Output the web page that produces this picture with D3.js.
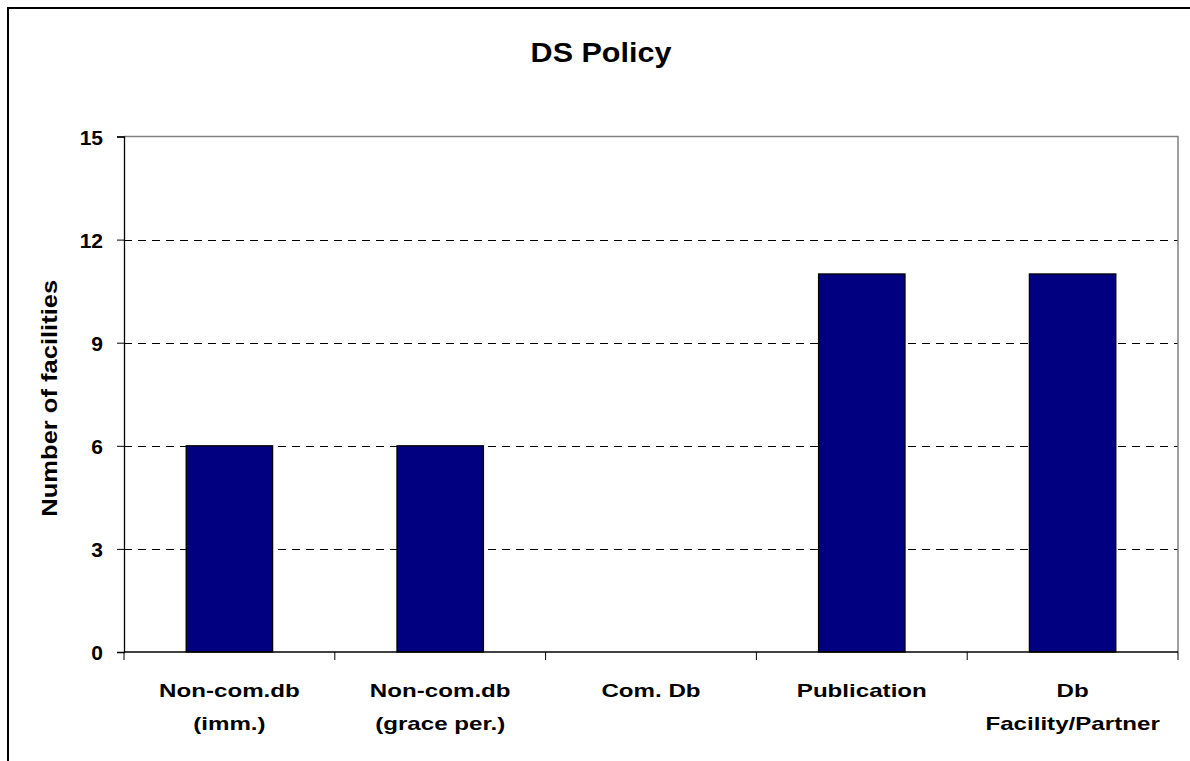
<!DOCTYPE html>
<html><head><meta charset="utf-8">
<script src="https://cdn.jsdelivr.net/npm/d3@7"></script>
<style>body{margin:0;background:#fff}svg{display:block}text{font-family:"Liberation Sans",Arial,sans-serif;font-weight:bold;fill:#000}</style>
</head><body><svg id="c" width="1190" height="761"></svg>
<script>
const categories = [["Non-com.db","(imm.)"],["Non-com.db","(grace per.)"],["Com. Db"],["Publication"],["Db","Facility/Partner"]];
const values = [6, 6, 0, 11, 11];
const yTicks = [0, 3, 6, 9, 12, 15];
const title = "DS Policy";
const yLabel = "Number of facilities";

function stretch(sel, f){
  sel.each(function(){ const w=this.getComputedTextLength(); d3.select(this).attr("textLength",w*f).attr("lengthAdjust","spacingAndGlyphs"); });
}

const svg = d3.select("#c");
svg.append("rect").attr("x",8).attr("y",8).attr("width",1300).attr("height",900)
  .attr("fill","#fff").attr("stroke","#000").attr("stroke-width",2);

const L=124, R=1178, T=136.5, B=652;
const x = d3.scaleBand().domain(d3.range(categories.length)).range([L,R]).paddingInner(0.59).paddingOuter(0.295);
const xb = d3.scaleBand().domain(d3.range(categories.length)).range([L,R]);
const y = d3.scaleLinear().domain([0,15]).range([B,T]);

// gridlines
svg.append("g").selectAll("line").data(yTicks.filter(t=>t>0&&t<15)).join("line")
  .attr("x1",L).attr("x2",R).attr("y1",d=>Math.round(y(d))+0.5).attr("y2",d=>Math.round(y(d))+0.5)
  .attr("stroke","#000").attr("stroke-width",1).attr("stroke-dasharray","8,6");

// plot border top/right
svg.append("path").attr("d",`M${L},${T}H${R}V${B}`).attr("fill","none").attr("stroke","#808080").attr("stroke-width",1.5);

// bars
svg.append("g").selectAll("rect").data(values).join("rect")
  .attr("x",(d,i)=>x(i)).attr("width",x.bandwidth())
  .attr("y",d=>y(d)).attr("height",d=>B-y(d))
  .attr("fill","#000080").attr("stroke","#000").attr("stroke-width",1.3)
  .attr("display",d=>d>0?null:"none");

// y axis
const yAxis = d3.axisLeft(y).tickValues(yTicks).tickSize(7).tickPadding(14);
const gy = svg.append("g").attr("transform",`translate(${L},0)`).call(yAxis);
gy.attr("font-size",null).attr("font-family",null);
gy.select(".domain").attr("stroke","#000").attr("stroke-width",1.3);
gy.selectAll(".tick line").attr("stroke","#000");
gy.selectAll(".tick text").style("font-size","21px").attr("dy","0.36em");

// x axis
const gx = svg.append("g").attr("transform",`translate(0,${B})`);
gx.append("line").attr("x1",L).attr("x2",R).attr("stroke","#000").attr("stroke-width",1.3);
gx.selectAll("line.t").data(d3.range(categories.length+1)).join("line").attr("class","t")
  .attr("x1",i=>L+i*xb.bandwidth()).attr("x2",i=>L+i*xb.bandwidth()).attr("y1",0).attr("y2",8)
  .attr("stroke","#000").attr("stroke-width",1);
const lbl = gx.selectAll("g.lab").data(categories).join("g").attr("class","lab")
  .attr("transform",(d,i)=>`translate(${xb(i)+xb.bandwidth()/2},0)`);
const lt = lbl.selectAll("text").data(d=>d).join("text").attr("text-anchor","middle").style("font-size","19px")
  .attr("x",0).attr("y",(d,j)=>45+j*33).text(d=>d);
stretch(lt, 1.27);

// title
const tt = svg.append("text").attr("x",601).attr("y",62).attr("text-anchor","middle").style("font-size","28px").text(title);
stretch(tt, 1.09);
// y label
const yl = svg.append("text").attr("transform",`translate(57,${(T+B)/2+4}) rotate(-90)`).attr("text-anchor","middle").style("font-size","22px").text(yLabel);
stretch(yl, 1.16);
</script></body></html>
